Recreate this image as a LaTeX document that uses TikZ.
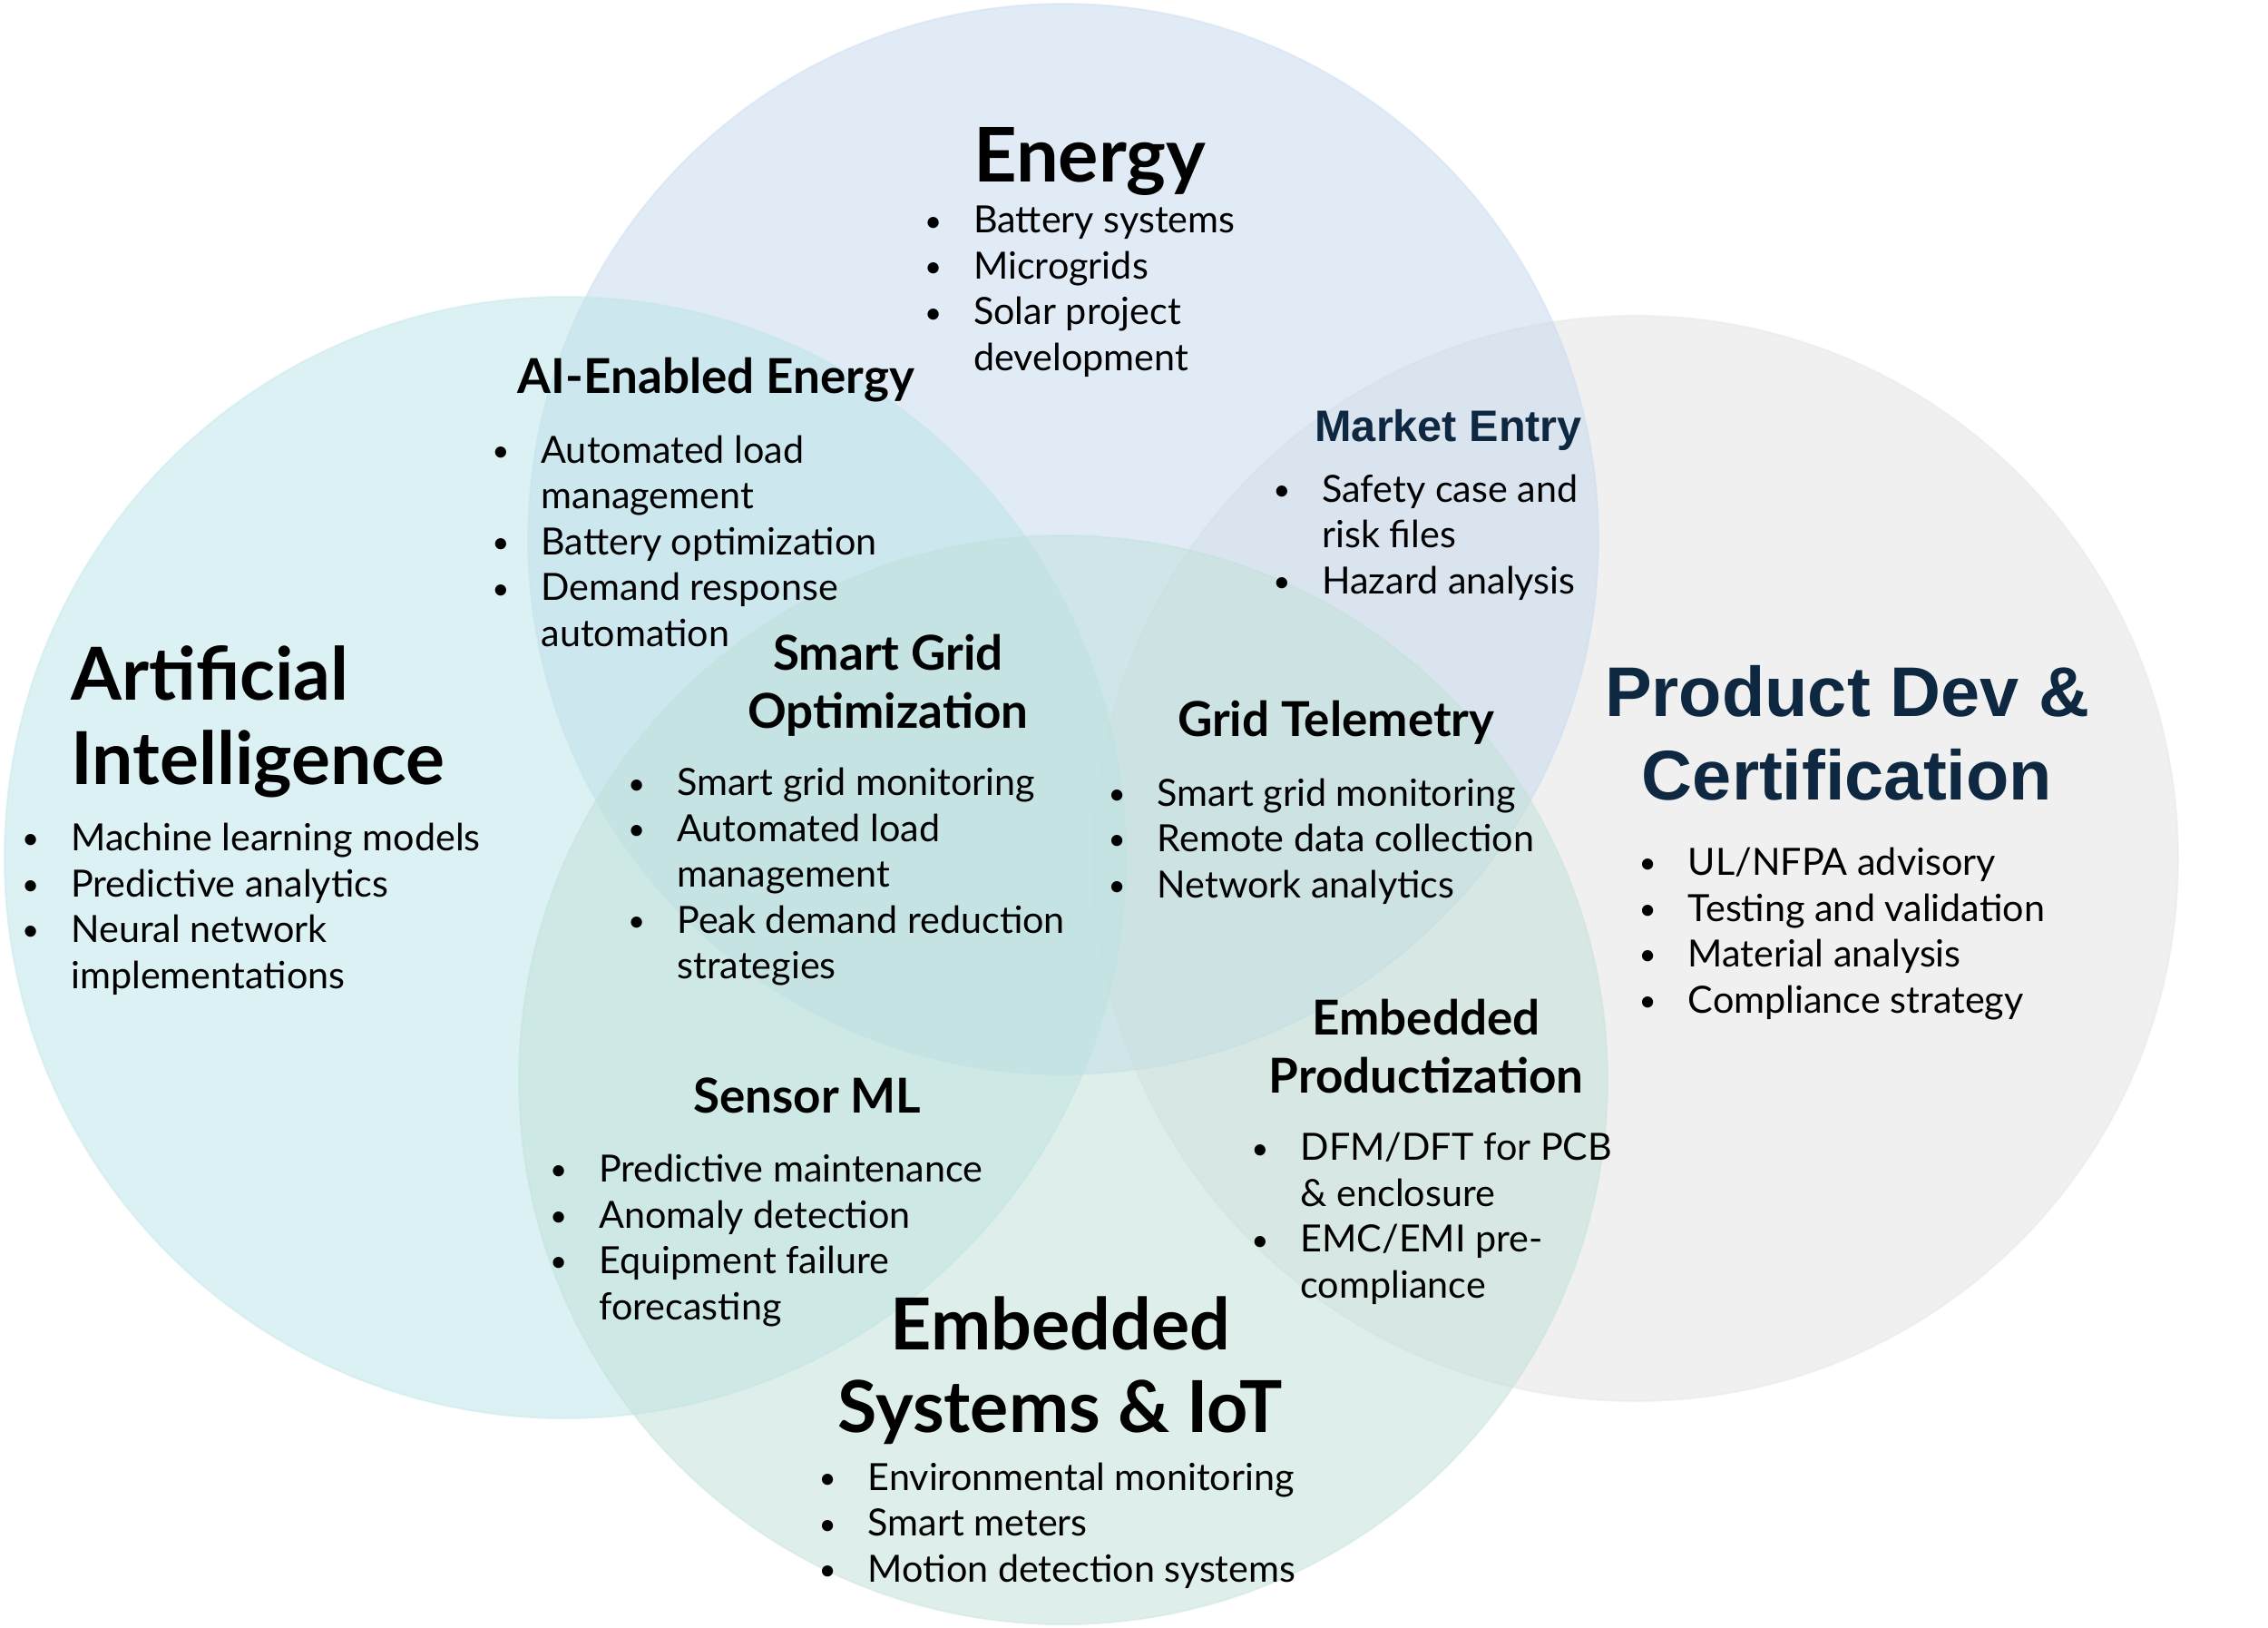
\documentclass[tikz,border=0pt]{standalone}
\usepackage{fontspec}
\usepackage{graphicx}
\setmainfont{Lato}
\newfontfamily\arialf{Liberation Sans}
\definecolor{aic}{RGB}{187,229,233}
\definecolor{enc}{RGB}{197,217,239}
\definecolor{prc}{RGB}{227,227,227}
\definecolor{emc}{RGB}{191,225,217}
\definecolor{navy}{RGB}{14,40,65}
\newcommand{\bl}{\llap{\raisebox{0.04em}{\scalebox{0.8}{•}}\hspace{35pt}}}
\tikzset{
  circ/.style={fill opacity=0.5, draw opacity=0.35, line width=2pt},
  listn/.style={inner sep=0pt, anchor=base west, font=\fontsize{41.3}{50.5}\selectfont},
  headl/.style={inner sep=0pt, anchor=base west, font=\fontsize{53}{64}\selectfont\bfseries},
  headc/.style={inner sep=0pt, anchor=base, font=\fontsize{53}{64}\selectfont\bfseries},
  titlel/.style={inner sep=0pt, anchor=base west, font=\fontsize{80.5}{92.5}\selectfont\bfseries},
  titlec/.style={inner sep=0pt, anchor=base, font=\fontsize{79}{91}\selectfont\bfseries},
  navyh/.style={inner sep=0pt, text=navy, font=\arialf\bfseries\fontsize{48.6}{60}\selectfont},
  navyt/.style={inner sep=0pt, anchor=base, text=navy, font=\arialf\bfseries\fontsize{77.5}{92.5}\selectfont}
}
\begin{document}
\begin{tikzpicture}[x=1.5944pt,y=-1.5944pt]
\useasboundingbox (0,0) rectangle (1568,1125);
\fill[white] (0,0) rectangle (1568,1125);
% circles
\path[circ, fill=prc, draw=prc] (1130.8,593.3) circle[radius=375.1];
\path[circ, fill=enc, draw=enc] (735.1,372.6) circle[radius=370.0];
\path[circ, fill=aic, draw=aic] (390.7,592.7) circle[radius=387.6];
\path[circ, fill=emc, draw=emc] (735.1,746.4) circle[radius=376.3];

% Energy
\node[titlel, font=\fontsize{83}{92.5}\selectfont\bfseries] (enT) at (673,126) {Energy};
\node[listn] (enL) at (673,161) {\begin{tabular}[t]{@{}l@{}}\bl Battery systems\\\bl Microgrids\\\bl Solar project\\ development\end{tabular}};

% AI-Enabled Energy
\node[headl] (aeT) at (358,272) {AI-Enabled Energy};
\node[listn] (aeL) at (374,320) {\begin{tabular}[t]{@{}l@{}}\bl Automated load\\ management\\\bl Battery optimization\\\bl Demand response\\ automation\end{tabular}};

% Market Entry
\node[navyh, anchor=base west] (meT) at (909,305) {Market Entry};
\node[listn] (meL) at (914,347) {\begin{tabular}[t]{@{}l@{}}\bl Safety case and\\ risk files\\\bl Hazard analysis\end{tabular}};

% Artificial Intelligence
\node[titlel] (aiT) at (49,484) {\begin{tabular}[t]{@{}l@{}}Artificial\\Intelligence\end{tabular}};
\node[listn] (aiL) at (49,588) {\begin{tabular}[t]{@{}l@{}}\bl Machine learning models\\\bl Predictive analytics\\\bl Neural network\\ implementations\end{tabular}};

% Smart Grid Optimization
\node[headc] (sgT) at (614,463) {\begin{tabular}[t]{@{}c@{}}Smart Grid\\Optimization\end{tabular}};
\node[listn] (sgL) at (468,550) {\begin{tabular}[t]{@{}l@{}}\bl Smart grid monitoring\\\bl Automated load\\ management\\\bl Peak demand reduction\\ strategies\end{tabular}};

% Grid Telemetry
\node[headl] (gtT) at (814,509) {Grid Telemetry};
\node[listn] (gtL) at (800,557) {\begin{tabular}[t]{@{}l@{}}\bl Smart grid monitoring\\\bl Remote data collection\\\bl Network analytics\end{tabular}};

% Product Dev & Certification
\node[navyt] (pdT) at (1277,495) {\begin{tabular}[t]{@{}c@{}}Product Dev \&\\Certification\end{tabular}};
\node[listn] (pdL) at (1167,605) {\begin{tabular}[t]{@{}l@{}}\bl UL/NFPA advisory\\\bl Testing and validation\\\bl Material analysis\\\bl Compliance strategy\end{tabular}};

% Sensor ML
\node[headc] (smT) at (558,769) {Sensor ML};
\node[listn] (smL) at (414,817) {\begin{tabular}[t]{@{}l@{}}\bl Predictive maintenance\\\bl Anomaly detection\\\bl Equipment failure\\ forecasting\end{tabular}};

% Embedded Productization
\node[headc] (epT) at (986,715) {\begin{tabular}[t]{@{}c@{}}Embedded\\Productization\end{tabular}};
\node[listn] (epL) at (899,802) {\begin{tabular}[t]{@{}l@{}}\bl DFM/DFT for PCB\\ \& enclosure\\\bl EMC/EMI pre-\\ compliance\end{tabular}};

% Embedded Systems & IoT
\node[titlec] (esT) at (733,933) {\begin{tabular}[t]{@{}c@{}}Embedded\\Systems \& IoT\end{tabular}};
\node[listn] (esL) at (600,1030) {\begin{tabular}[t]{@{}l@{}}\bl Environmental monitoring\\\bl Smart meters\\\bl Motion detection systems\end{tabular}};
\end{tikzpicture}
\end{document}
